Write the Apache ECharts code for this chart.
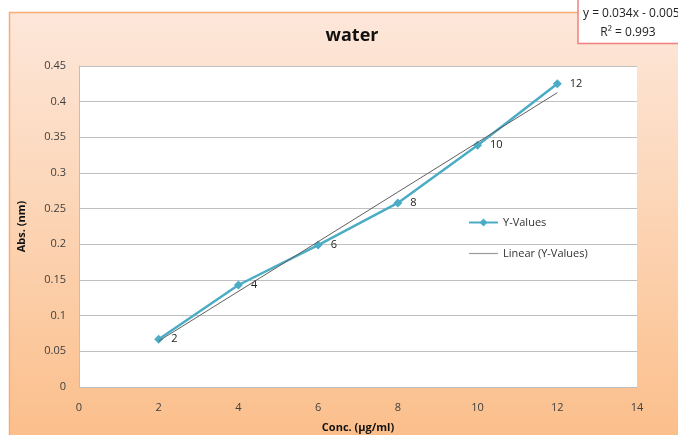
<!DOCTYPE html>
<html>
<head>
<meta charset="utf-8">
<style>
  html, body { margin: 0; padding: 0; background: #ffffff; }
  #chart { width: 678px; height: 435px; }
</style>
<script src="https://cdn.jsdelivr.net/npm/echarts@6/dist/echarts.min.js"></script>
</head>
<body>
<div id="chart"></div>
<script>
// Calibration data: concentration (µg/ml) vs absorbance
const concentrations = [2, 4, 6, 8, 10, 12];
const absorbances = [0.067, 0.143, 0.199, 0.258, 0.339, 0.425];
const xTicks = [0, 2, 4, 6, 8, 10, 12, 14];
const yTicks = [0, 0.05, 0.1, 0.15, 0.2, 0.25, 0.3, 0.35, 0.4, 0.45];
const equationText = 'y = 0.034x - 0.005';
const r2Text = 'R² = 0.993';

// Least-squares fit of the measured points for the trendline
function linearFit(xs, ys) {
  const n = xs.length;
  const mx = xs.reduce((a, b) => a + b, 0) / n;
  const my = ys.reduce((a, b) => a + b, 0) / n;
  let sxy = 0, sxx = 0;
  for (let i = 0; i < n; i++) {
    sxy += (xs[i] - mx) * (ys[i] - my);
    sxx += (xs[i] - mx) * (xs[i] - mx);
  }
  const slope = sxy / sxx;
  return { slope, intercept: my - slope * mx };
}
const fit = linearFit(concentrations, absorbances);
const xFirst = concentrations[0];
const xLast = concentrations[concentrations.length - 1];
const trendData = [
  [xFirst, fit.slope * xFirst + fit.intercept],
  [xLast, fit.slope * xLast + fit.intercept]
];
const pointData = concentrations.map((x, i) => [x, absorbances[i]]);

const FONT = '"Open Sans", "Liberation Sans", sans-serif';
const chart = echarts.init(document.getElementById('chart'), null, { renderer: 'canvas' });

chart.setOption({
  animation: false,
  backgroundColor: '#ffffff',
  graphic: [
    {
      type: 'rect', z: -10, silent: true,
      shape: { x: 9.5, y: 12.5, width: 700, height: 440 },
      style: {
        fill: new echarts.graphic.LinearGradient(0, 0, 0, 1, [
          { offset: 0, color: '#fde7da' },
          { offset: 0.5, color: '#fcd3b2' },
          { offset: 1, color: '#fbbd88' }
        ]),
        stroke: '#f9ad73', lineWidth: 1.5
      }
    },
    {
      type: 'rect', z: -9, silent: true,
      shape: { x: 79, y: 66, width: 558, height: 321 },
      style: { fill: '#ffffff' }
    },
    {
      type: 'group', z: 20,
      children: [
        {
          type: 'rect',
          shape: { x: 578, y: -5, width: 120, height: 48.5 },
          style: { fill: '#ffffff', stroke: '#f08080', lineWidth: 1.5 }
        },
        {
          type: 'text', x: 583, y: 14,
          style: { text: equationText, font: '12px ' + FONT, fill: '#222222', textVerticalAlign: 'middle' }
        },
        {
          type: 'text', x: 628, y: 33,
          style: { text: r2Text, font: '12px ' + FONT, fill: '#222222', textAlign: 'center', textVerticalAlign: 'middle' }
        }
      ]
    }
  ],
  title: {
    text: 'water',
    left: 347, top: 22, textAlign: 'center',
    textStyle: { fontFamily: FONT, fontSize: 18, fontWeight: 'bold', color: '#111111' }
  },
  legend: {
    orient: 'vertical',
    left: 463, top: 212,
    itemGap: 20,
    itemWidth: 29, itemHeight: 10,
    textStyle: { fontFamily: FONT, fontSize: 11, color: '#333333' },
    data: [
      { name: 'Y-Values' },
      { name: 'Linear (Y-Values)', icon: 'path://M0,4.4L29,4.4L29,5.6L0,5.6Z', itemStyle: { color: '#9a9a9a' } }
    ]
  },
  grid: { left: 79, right: 41, top: 66, bottom: 48, containLabel: false, outerBoundsMode: 'none' },
  xAxis: {
    type: 'value', min: 0, max: 14, interval: 2,
    name: 'Conc. (µg/ml)', nameLocation: 'middle', nameGap: 35,
    nameTextStyle: { fontFamily: FONT, fontSize: 11, fontWeight: 'bold', color: '#111111' },
    axisLine: { show: false },
    axisTick: { show: false },
    splitLine: { show: false },
    axisLabel: { fontFamily: FONT, fontSize: 11, color: '#404040', margin: 15,
      formatter: v => xTicks.includes(v) ? String(v) : '' }
  },
  yAxis: {
    type: 'value', min: 0, max: 0.45, interval: 0.05,
    name: 'Abs. (nm)', nameLocation: 'middle', nameGap: 52,
    nameTextStyle: { fontFamily: FONT, fontSize: 11, fontWeight: 'bold', color: '#111111' },
    axisLine: { show: true, lineStyle: { color: '#bfbfbf', width: 1 } },
    axisTick: { show: false },
    splitLine: { show: true, lineStyle: { color: '#c0c0c0', width: 1 } },
    axisLabel: { fontFamily: FONT, fontSize: 11, color: '#404040', margin: 13,
      formatter: v => {
        const t = yTicks.find(k => Math.abs(k - v) < 1e-9);
        return t === undefined ? '' : String(Math.round(t * 100) / 100);
      } }
  },
  series: [
    {
      name: 'Y-Values',
      type: 'line',
      data: pointData,
      color: '#4bacc6',
      lineStyle: { color: '#4bacc6', width: 2.5 },
      symbol: 'diamond', symbolSize: 9,
      itemStyle: { color: '#4bacc6' },
      label: {
        show: true, position: 'right', distance: 8,
        fontFamily: FONT, fontSize: 11, color: '#222222',
        formatter: p => String(p.value[0])
      },
      z: 3
    },
    {
      name: 'Linear (Y-Values)',
      type: 'line',
      data: trendData,
      color: '#9a9a9a',
      lineStyle: { color: '#606060', width: 1 },
      symbol: 'none',
      z: 4
    }
  ]
});
</script>
</body>
</html>
